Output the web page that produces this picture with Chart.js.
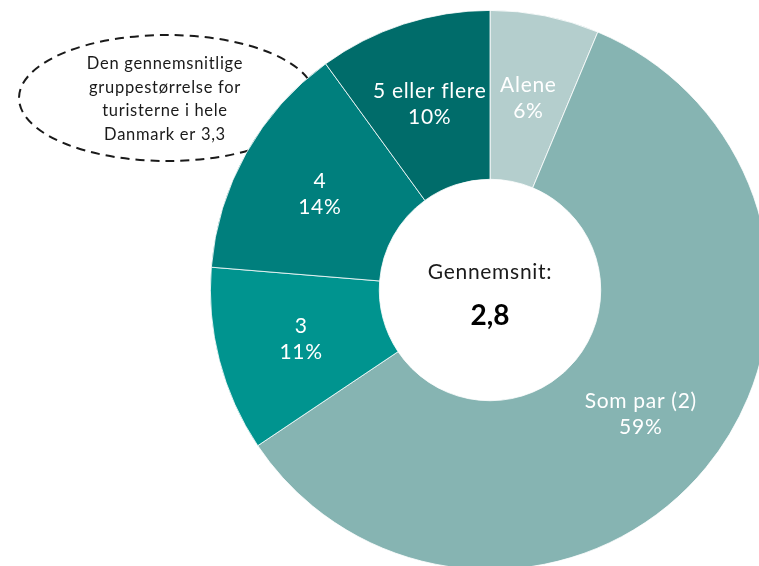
<!DOCTYPE html>
<html>
<head>
<meta charset="utf-8">
<script src="https://cdn.jsdelivr.net/npm/chart.js@4.4.1/dist/chart.umd.min.js"></script>
<style>
    html, body {
        margin: 0;
        padding: 0;
        width: 759px;
        height: 566px;
        overflow: hidden;
        background: #ffffff;
    }
    #groupChart {
        position: absolute;
        left: 0;
        top: 0;
    }
</style>
</head>
<body>
<canvas id="groupChart" width="980" height="580"></canvas>
<script>
// Data (shares, labels show them rounded)
const categories = ['Alene', 'Som par (2)', '3', '4', '5 eller flere'];
const shares = [6.3, 59.3, 10.7, 13.7, 10];
const sliceColors = ['#b4cecd', '#86b4b2', '#00948f', '#007f7d', '#006c6a'];

// Texts
const centerTitle = 'Gennemsnit:';
const centerValue = '2,8';
const noteLines = ['Den gennemsnitlige', 'gruppestørrelse for', 'turisterne i hele', 'Danmark er 3,3'];

const FONT = 'Lato, "Open Sans", sans-serif';

// Dashed note ellipse, drawn behind the doughnut
const notePlugin = {
    id: 'noteEllipse',
    beforeDatasetsDraw(chart) {
        const ctx = chart.ctx;
        ctx.save();
        ctx.beginPath();
        ctx.ellipse(167, 98, 148, 63, 0, 0, Math.PI * 2);
        ctx.setLineDash([9, 6]);
        ctx.lineWidth = 2;
        ctx.strokeStyle = '#1a1a1a';
        ctx.stroke();
        ctx.setLineDash([]);

        ctx.fillStyle = '#1a1a1a';
        ctx.font = '16.5px ' + FONT;
        ctx.letterSpacing = '0.7px';
        ctx.textAlign = 'center';
        ctx.textBaseline = 'alphabetic';
        noteLines.forEach((line, i) => {
            ctx.fillText(line, 165, 69 + i * 23.7);
        });
        ctx.restore();
    }
};

// Slice labels and the centre text
const labelPlugin = {
    id: 'sliceLabels',
    afterDatasetsDraw(chart) {
        const ctx = chart.ctx;
        const meta = chart.getDatasetMeta(0);
        ctx.save();
        ctx.textAlign = 'center';
        ctx.textBaseline = 'middle';
        ctx.fillStyle = '#ffffff';
        ctx.font = '21px ' + FONT;
        ctx.letterSpacing = '0.7px';
        meta.data.forEach((arc, i) => {
            const pos = arc.tooltipPosition();
            ctx.fillText(categories[i], pos.x, pos.y - 13);
            ctx.fillText(Math.round(shares[i]) + '%', pos.x, pos.y + 13);
        });

        const first = meta.data[0];
        const cx = first.x;
        const cy = first.y;
        ctx.textBaseline = 'alphabetic';
        ctx.fillStyle = '#1a1a1a';
        ctx.fillText(centerTitle, cx, cy - 11);
        ctx.letterSpacing = '0px';
        ctx.fillStyle = '#000000';
        ctx.font = 'bold 28px ' + FONT;
        ctx.fillText(centerValue, cx, cy + 35);
        ctx.restore();
    }
};

new Chart(document.getElementById('groupChart'), {
    type: 'doughnut',
    data: {
        labels: categories,
        datasets: [{
            data: shares,
            backgroundColor: sliceColors,
            borderColor: '#ffffff',
            borderWidth: 0.8
        }]
    },
    options: {
        responsive: false,
        animation: false,
        cutout: '39.6%',
        layout: {
            padding: { left: 210, right: 210, top: 10, bottom: 10 }
        },
        plugins: {
            legend: { display: false },
            tooltip: { enabled: false }
        }
    },
    plugins: [notePlugin, labelPlugin]
});
</script>
</body>
</html>
